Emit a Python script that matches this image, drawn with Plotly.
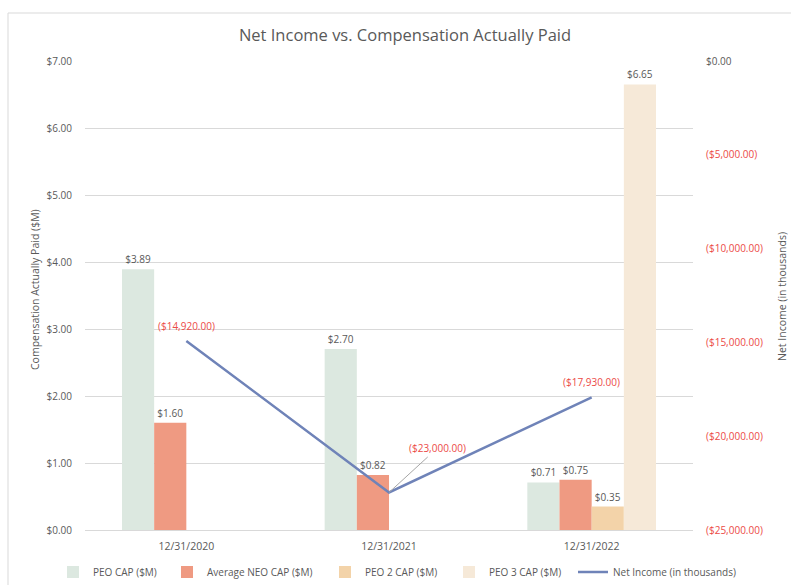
import plotly.graph_objects as go

categories = ["12/31/2020", "12/31/2021", "12/31/2022"]
peo_cap = [3.89, 2.70, 0.71]
neo_cap = [1.60, 0.82, 0.75]
peo2_cap = [None, None, 0.35]
peo3_cap = [None, None, 6.65]
net_income = [-14920, -23000, -17930]
net_income_labels = ["($14,920.00)", "($23,000.00)", "($17,930.00)"]

left_tickvals = [0, 1, 2, 3, 4, 5, 6, 7]
left_ticktext = ["$0.00", "$1.00", "$2.00", "$3.00", "$4.00", "$5.00", "$6.00", "$7.00"]
right_tickvals = [0, -5000, -10000, -15000, -20000, -25000]
right_ticktext = ["<span style='color:#595959'>$0.00</span>", "($5,000.00)", "($10,000.00)",
                  "($15,000.00)", "($20,000.00)", "($25,000.00)"]

FONT = "Open Sans"
GRAY = "#595959"
RED = "#ec4a46"

# plot-area geometry (pixels) used to place legends in paper units
PL, PR, PT, PB = 85, 693, 61, 530
PW, PH = PR - PL, PB - PT
legend_text_x = [95, 209, 367, 491, 615]
legend_names = ["legend", "legend2", "legend3", "legend4", "legend5"]

fig = go.Figure()
bar_specs = [
    ("PEO CAP ($M)", peo_cap, "#dce8e0"),
    ("Average NEO CAP ($M)", neo_cap, "#ef9a82"),
    ("PEO 2 CAP ($M)", peo2_cap, "#f3d3a9"),
    ("PEO 3 CAP ($M)", peo3_cap, "#f6e9d8"),
]
for i, (name, vals, col) in enumerate(bar_specs):
    fig.add_trace(go.Bar(
        x=categories, y=vals, name=name, marker=dict(color=col, line=dict(width=0)),
        text=[None if v is None else f"${v:.2f}" for v in vals],
        textposition="outside", textfont=dict(color=GRAY, size=10, family=FONT),
        cliponaxis=False, legend=legend_names[i],
    ))

fig.add_trace(go.Scatter(
    x=categories, y=net_income, name="Net Income (in thousands)", yaxis="y2",
    mode="lines", line=dict(color="#6f83b8", width=2.5), legend=legend_names[4],
))

annotations = []
for i, (c, v, t) in enumerate(zip(categories, net_income, net_income_labels)):
    if i == 1:
        annotations.append(dict(x=c, y=v, xref="x", yref="y2", text=t, showarrow=True,
                                arrowhead=0, arrowwidth=1, arrowcolor="#a6a6a6",
                                ax=48, ay=-44, font=dict(color=RED, size=10, family=FONT)))
    else:
        annotations.append(dict(x=c, y=v, xref="x", yref="y2", text=t, showarrow=False,
                                yshift=15, font=dict(color=RED, size=10, family=FONT)))
annotations.append(dict(x=(35 - PL) / PW, y=(PB - 290) / PH, xref="paper", yref="paper",
                        xanchor="center", yanchor="middle",
                        text="Compensation Actually Paid ($M)", textangle=-90, showarrow=False,
                        font=dict(color=GRAY, size=10.5, family=FONT)))
annotations.append(dict(x=(782 - PL) / PW, y=(PB - 297) / PH, xref="paper", yref="paper",
                        xanchor="center", yanchor="middle",
                        text="Net Income (in thousands)", textangle=-90, showarrow=False,
                        font=dict(color=GRAY, size=10.5, family=FONT)))

legend_layout = {}
for name, tx in zip(legend_names, legend_text_x):
    legend_layout[name] = dict(orientation="h", x=(tx - 42 - PL) / PW, xanchor="left",
                               y=(PB - 572) / PH, yanchor="middle", itemwidth=30,
                               font=dict(size=10, color=GRAY, family=FONT),
                               bgcolor="rgba(0,0,0,0)")

fig.update_layout(
    width=791, height=585,
    margin=dict(l=PL, r=791 - PR, t=PT, b=585 - PB, autoexpand=False),
    paper_bgcolor="white", plot_bgcolor="white",
    font=dict(family=FONT, color=GRAY, size=10),
    title=dict(text="Net Income vs. Compensation Actually Paid", x=(405 - PL) / PW, xref="paper",
               xanchor="center", y=1 - 35 / 585, yanchor="middle",
               font=dict(size=16.5, color=GRAY, family=FONT)),
    barmode="group", bargap=0.365, bargroupgap=0,
    xaxis=dict(showgrid=False, showline=False, ticks="", tickfont=dict(size=10.5, color=GRAY),
               ticklabelstandoff=8),
    yaxis=dict(range=[0, 7], tickvals=left_tickvals, ticktext=left_ticktext,
               showgrid=True, gridcolor="#d9d9d9", gridwidth=1, zeroline=True,
               zerolinecolor="#d9d9d9", zerolinewidth=1, showline=False,
               tickfont=dict(size=10, color=GRAY), ticklabelstandoff=12),
    yaxis2=dict(range=[-25000, 0], overlaying="y", side="right", tickvals=right_tickvals,
                ticktext=right_ticktext, showgrid=False, zeroline=False, showline=False,
                tickfont=dict(size=10, color=RED), ticklabelstandoff=12),
    annotations=annotations,
    shapes=[dict(type="rect", xref="paper", yref="paper", x0=(8 - PL) / PW, x1=(800 - PL) / PW,
                 y0=(PB - 600) / PH, y1=(PB - 13) / PH, line=dict(color="#d9d9d9", width=1),
                 fillcolor="rgba(0,0,0,0)", layer="below")],
    showlegend=True,
    **legend_layout,
)

fig.write_html("out.html", config={"displayModeBar": False},
               post_script="document.body.style.margin='0px';document.body.style.overflow='hidden';")
